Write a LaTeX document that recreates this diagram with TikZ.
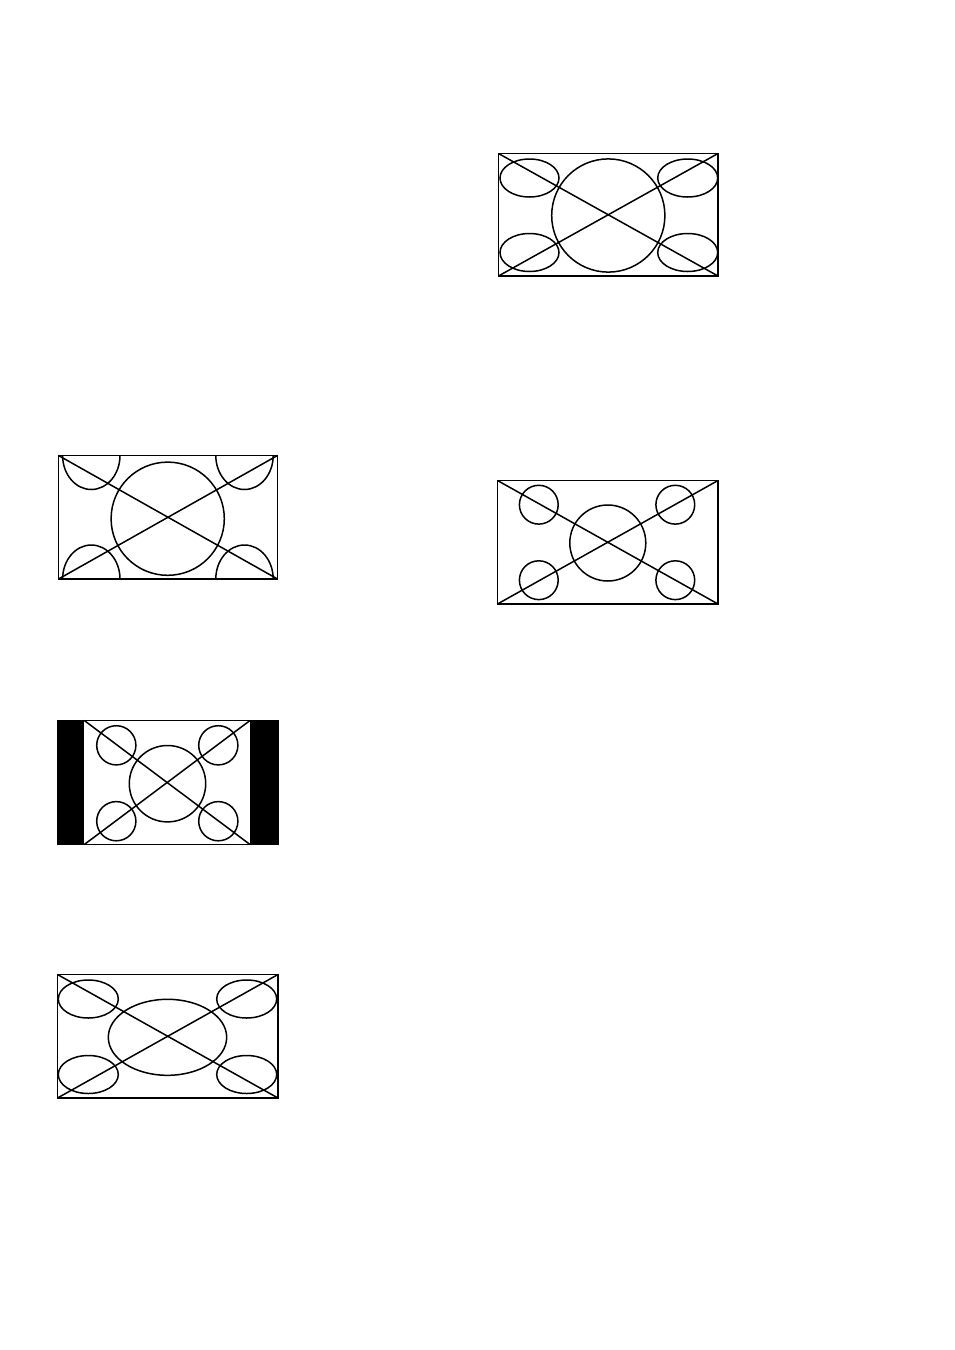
\documentclass[tikz,border=0pt]{standalone}
\tikzset{screen/.style={line width=1.5pt, line join=miter}}
\begin{document}
\begin{tikzpicture}[x=1pt,y=-1pt]
\useasboundingbox (0,0) rectangle (954,1350);
% full
\coordinate (full0) at (498.5,153.5);
\coordinate (full1) at (718,276);
\draw[screen] (full0) rectangle (full1);
\draw[screen] (full0) -- (full1);
\draw[screen] (full0 |- full1) -- (full1 |- full0);
\draw[screen] (608.3,215.5) circle (56.6);
\draw[screen] (529.5,178) ellipse [x radius=29.5, y radius=19];
\draw[screen] (687.7,178) ellipse [x radius=30, y radius=19];
\draw[screen] (529.5,252.5) ellipse [x radius=29.5, y radius=19];
\draw[screen] (687.7,252.5) ellipse [x radius=30, y radius=19];
% zoom
\coordinate (zoom0) at (58.5,455.5);
\coordinate (zoom1) at (277.5,579);
\begin{scope}
\clip (zoom0) rectangle (zoom1);
\draw[screen] (91.3,455.5) ellipse [x radius=28.7, y radius=34];
\draw[screen] (244.5,455.5) ellipse [x radius=28.7, y radius=34];
\draw[screen] (91.3,579) ellipse [x radius=28.7, y radius=34];
\draw[screen] (244.5,579) ellipse [x radius=28.7, y radius=34];
\end{scope}
\draw[screen] (zoom0) rectangle (zoom1);
\draw[screen] (zoom0) -- (zoom1);
\draw[screen] (zoom0 |- zoom1) -- (zoom1 |- zoom0);
\draw[screen] (167.7,518.7) circle (56.6);
% normal
\coordinate (norm0) at (497.5,480.5);
\coordinate (norm1) at (718,604);
\draw[screen] (norm0) rectangle (norm1);
\draw[screen] (norm0) -- (norm1);
\draw[screen] (norm0 |- norm1) -- (norm1 |- norm0);
\draw[screen] (607.8,543) circle (38);
\draw[screen] (538.8,504.7) circle (19.4);
\draw[screen] (675.3,504.7) circle (19.4);
\draw[screen] (538.8,580.2) circle (19.4);
\draw[screen] (675.3,580.2) circle (19.4);
% side bars
\coordinate (side0) at (57.5,720.5);
\coordinate (side1) at (278,844.5);
\coordinate (bar0) at (84.3,720.5);
\coordinate (bar1) at (250,844.5);
\fill (side0) rectangle (bar0 |- side1);
\fill (bar1 |- side0) rectangle (side1);
\draw[screen] (side0) rectangle (side1);
\draw[screen] (bar0) -- (bar1);
\draw[screen] (bar0 |- bar1) -- (bar1 |- bar0);
\draw[screen] (167.5,783.7) circle (38.2);
\draw[screen] (116.3,745.3) circle (19.6);
\draw[screen] (218.3,745.3) circle (19.6);
\draw[screen] (116.3,821.2) circle (19.6);
\draw[screen] (218.3,821.2) circle (19.6);
% stretch
\coordinate (wide0) at (57.5,974.5);
\coordinate (wide1) at (278,1098);
\draw[screen] (wide0) rectangle (wide1);
\draw[screen] (wide0) -- (wide1);
\draw[screen] (wide0 |- wide1) -- (wide1 |- wide0);
\draw[screen] (167.5,1037.3) ellipse [x radius=59.2, y radius=38];
\draw[screen] (88.3,999) ellipse [x radius=30, y radius=19];
\draw[screen] (246.7,999) ellipse [x radius=30, y radius=19];
\draw[screen] (88.3,1074.5) ellipse [x radius=30, y radius=19];
\draw[screen] (246.7,1074.5) ellipse [x radius=30, y radius=19];
\end{tikzpicture}
\end{document}
